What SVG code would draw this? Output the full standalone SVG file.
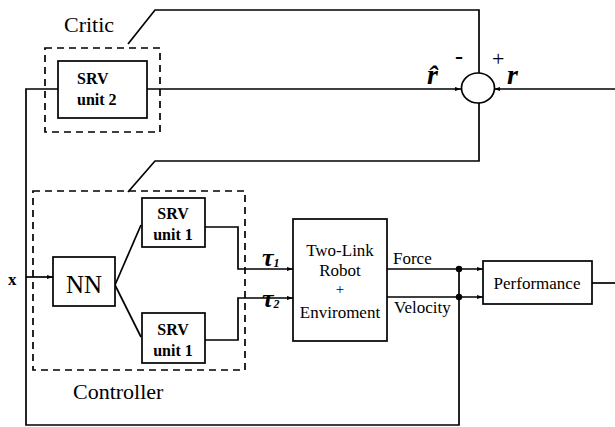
<svg xmlns="http://www.w3.org/2000/svg" width="615" height="427" viewBox="0 0 615 427">
<style>
.box{fill:#fff;stroke:#000;stroke-width:1.7}
.dash{fill:none;stroke:#000;stroke-width:1.7;stroke-dasharray:7,5}
.ln{fill:none;stroke:#000;stroke-width:1.7}
.t{font-family:"Liberation Serif",serif;fill:#000}
.b{font-weight:bold}
</style>
<defs>
<marker id="ah" markerWidth="6" markerHeight="6" refX="6" refY="3" orient="auto" markerUnits="userSpaceOnUse">
<path d="M0,1 L6,3 L0,5 z" fill="#000"/>
</marker>
</defs>
<rect width="615" height="427" fill="#fff"/>
<g id="connectors">
<polyline class="ln" points="128,44 155,10 479,10 479,73"/>
<polyline class="ln" points="479,103 479,161 155,161 128,192"/>
<line class="ln" x1="147" y1="89" x2="461" y2="89" marker-end="url(#ah)"/>
<line class="ln" x1="615" y1="89" x2="494" y2="89" marker-end="url(#ah)"/>
<polyline class="ln" points="58,89 26,89 26,425 459,425 459,269"/>
<line class="ln" x1="26" y1="277" x2="53" y2="277" marker-end="url(#ah)"/>
<line class="ln" x1="115" y1="285" x2="141" y2="225"/>
<line class="ln" x1="115" y1="285" x2="141" y2="337"/>
<polyline class="ln" points="205,227 238,227 238,269 293,269" marker-end="url(#ah)"/>
<polyline class="ln" points="205,340 238,340 238,298 293,298" marker-end="url(#ah)"/>
<line class="ln" x1="387" y1="269" x2="483" y2="269" marker-end="url(#ah)"/>
<line class="ln" x1="387" y1="297" x2="483" y2="297" marker-end="url(#ah)"/>
<line class="ln" x1="592" y1="283" x2="615" y2="283"/>
<circle cx="459" cy="269" r="3.2" fill="#000"/>
<circle cx="459" cy="297" r="3.2" fill="#000"/>
</g>
<g id="critic">
<rect class="dash" x="45" y="48" width="115" height="84"/>
<text class="t" x="64" y="32" font-size="22">Critic</text>
</g>
<g id="srv2">
<rect class="box" x="58" y="61" width="89" height="57"/>
<text class="t b" x="77" y="84" font-size="16">SRV</text>
<text class="t b" x="77" y="105" font-size="16">unit 2</text>
</g>
<g id="sum">
<ellipse class="box" cx="478" cy="88" rx="16.5" ry="15"/>
<text class="t b" x="427" y="84" font-size="28" font-style="italic">r̂</text>
<text class="t b" x="455" y="64" font-size="24">-</text>
<text class="t" x="492" y="66" font-size="22">+</text>
<text class="t b" x="507" y="84" font-size="28" font-style="italic">r</text>
</g>
<g id="controller">
<rect class="dash" x="33" y="191" width="212" height="179"/>
<text class="t" x="73" y="399" font-size="22">Controller</text>
<text class="t b" x="8" y="285" font-size="17">x</text>
</g>
<g id="nn">
<rect class="box" x="53" y="257" width="62" height="49"/>
<text class="t" x="84" y="293" font-size="25" text-anchor="middle">NN</text>
</g>
<g id="srv1a">
<rect class="box" x="142" y="198" width="63" height="49"/>
<text class="t b" x="173" y="219" font-size="16" text-anchor="middle">SRV</text>
<text class="t b" x="173" y="240" font-size="16" text-anchor="middle">unit 1</text>
</g>
<g id="srv1b">
<rect class="box" x="142" y="313" width="63" height="50"/>
<text class="t b" x="173" y="335" font-size="16" text-anchor="middle">SRV</text>
<text class="t b" x="173" y="356" font-size="16" text-anchor="middle">unit 1</text>
</g>
<g id="tau">
<text class="t b" x="262" y="266" font-size="26" font-style="italic">τ<tspan font-size="12" dy="1">1</tspan></text>
<text class="t b" x="262" y="307" font-size="26" font-style="italic">τ<tspan font-size="12" dy="1">2</tspan></text>
</g>
<g id="robot">
<rect class="box" x="293" y="219" width="94" height="122"/>
<text class="t" x="340" y="256" font-size="17" text-anchor="middle">Two-Link</text>
<text class="t" x="340" y="276" font-size="17" text-anchor="middle">Robot</text>
<text class="t" x="340" y="294" font-size="15" text-anchor="middle">+</text>
<text class="t" x="340" y="318" font-size="17" text-anchor="middle">Enviroment</text>
</g>
<g id="labels">
<text class="t" x="393" y="264" font-size="17">Force</text>
<text class="t" x="394" y="313" font-size="17">Velocity</text>
</g>
<g id="performance">
<rect class="box" x="483" y="261" width="109" height="43"/>
<text class="t" x="537" y="289" font-size="17" text-anchor="middle">Performance</text>
</g>
</svg>
